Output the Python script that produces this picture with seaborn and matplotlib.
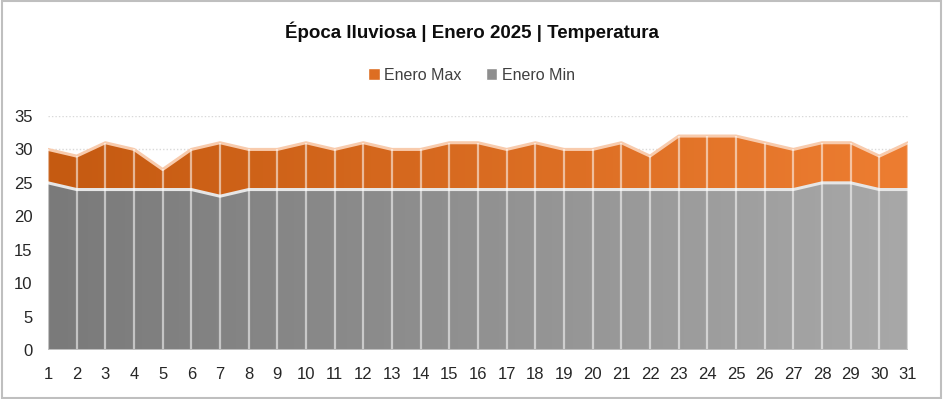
import numpy as np
import pandas as pd
import seaborn as sns
import matplotlib.pyplot as plt
from matplotlib.colors import LinearSegmentedColormap
from matplotlib.patches import Patch

dias = list(range(1, 32))
t_max = [30, 29, 31, 30, 27, 30, 31, 30, 30, 31, 30, 31, 30, 30, 31, 31,
         30, 31, 30, 30, 31, 29, 32, 32, 32, 31, 30, 31, 31, 29, 31]
t_min = [25, 24, 24, 24, 24, 24, 23, 24, 24, 24, 24, 24, 24, 24, 24, 24,
         24, 24, 24, 24, 24, 24, 24, 24, 24, 24, 24, 25, 25, 24, 24]

df = pd.DataFrame({'Dia': dias, 'Enero Max': t_max, 'Enero Min': t_min})

sns.set_theme(style='white')
plt.rcParams['font.family'] = ['Liberation Sans', 'DejaVu Sans']

fig = plt.figure(figsize=(9.43, 3.99), dpi=100)
ax = fig.add_axes([0.0509, 0.1228, 0.912, 0.5865])

naranja = LinearSegmentedColormap.from_list('nar', ['#C55A11', '#ED7D31'])
gris = LinearSegmentedColormap.from_list('gri', ['#7A7A7A', '#A8A8A8'])

def area_gradiente(col, cmap, borde, z):
    poly = ax.fill_between(df['Dia'], 0, df[col], color='none', lw=0, zorder=z)
    grad = np.linspace(0, 1, 256).reshape(1, -1)
    im = ax.imshow(grad, cmap=cmap, aspect='auto', extent=[1, 31, 0, 35],
                   origin='lower', zorder=z)
    im.set_clip_path(poly.get_paths()[0], transform=ax.transData)
    sns.lineplot(data=df, x='Dia', y=col, ax=ax, color=borde, lw=2.2,
                 zorder=z + 0.5, legend=False)

area_gradiente('Enero Max', naranja, '#F8CBAD', 2)
area_gradiente('Enero Min', gris, '#E6E6E6', 3)

# lineas verticales blancas en cada dia
ax.vlines(df['Dia'], 0, df['Enero Max'], color='white', alpha=0.55, lw=1.6, zorder=4)

for v in [30, 35]:
    ax.axhline(v, color='#D9D9D9', ls=(0, (1, 1.5)), lw=1, zorder=1)
ax.axhline(0, color='#BFBFBF', lw=2.2, zorder=5)

ax.set_xlim(1, 31)
ax.set_ylim(0, 35)
ax.set_xticks(dias)
ax.set_yticks(range(0, 36, 5))
ax.tick_params(axis='both', labelsize=12, colors='#262626', length=0)
ax.tick_params(axis='x', pad=12)
ax.tick_params(axis='y', pad=11)
ax.set_xlabel('')
ax.set_ylabel('')
for s in ax.spines.values():
    s.set_visible(False)

fig.text(0.5, 0.92, 'Época lluviosa | Enero 2025 | Temperatura', ha='center',
         va='center', fontsize=13.5, fontweight='bold', color='#0D0D0D')

handles = [Patch(facecolor='#DD6E22', label='Enero Max'),
           Patch(facecolor='#8E8E8E', label='Enero Min')]
fig.legend(handles=handles, loc='center', bbox_to_anchor=(0.5, 0.812), ncol=2,
           frameon=False, fontsize=11.5, handlelength=0.7, handleheight=0.7,
           handletextpad=0.3, columnspacing=1.5, labelcolor='#404040')

fig.patches.append(plt.Rectangle((0.002, 0.003), 0.996, 0.994, transform=fig.transFigure,
                                 fill=False, edgecolor='#BFBFBF', lw=1.5))

fig.savefig('out.png', dpi=100)
